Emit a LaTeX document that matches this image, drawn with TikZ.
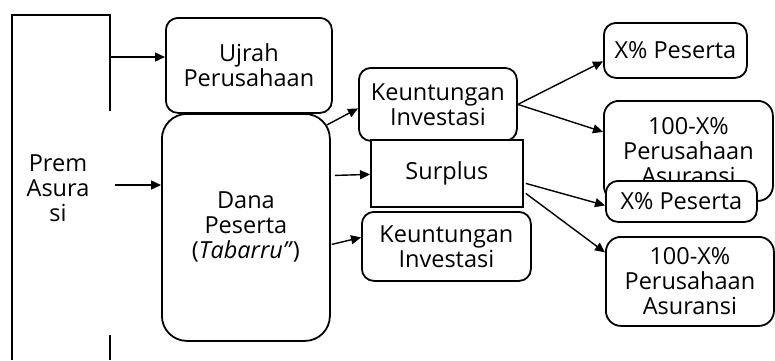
\documentclass[tikz,border=0pt]{standalone}
\usepackage{fontspec}
\setmainfont{Open Sans}
\usetikzlibrary{arrows.meta,calc}

\begin{document}
\begin{tikzpicture}[
    x=1pt, y=-1pt,
    >={Triangle[length=10pt,width=9pt]},
    line width=1.8pt,
    font=\fontsize{23.5}{25}\selectfont,
    box/.style={draw, rounded corners=12pt, fill=white, align=center, anchor=north west, inner sep=0pt},
    sqbox/.style={draw, fill=white, align=center, anchor=north west, inner sep=0pt},
    flow/.style={->, line width=1.4pt}
]
\useasboundingbox (0,0) rectangle (775,360);
% premi frame
\draw (110,111) -- (110,15) -- (12,15) -- (12,360);
\draw (110,335) -- (110,360);
\node[align=center] (premi) at (58,188) {Prem\\Asura\\si};
% middle column
\node[box, minimum width=166pt, minimum height=95pt] (ujrah) at (165,17) {Ujrah\\Perusahaan};
\node[box, rounded corners=25pt, minimum width=168pt, minimum height=227pt] (dana) at (161,113) {Dana\\Peserta\\(\textit{Tabarru''})};
\node[box, minimum width=158pt, minimum height=73pt] (keun) at (358,67) {Keuntungan\\Investasi};
\node[sqbox, minimum width=152pt, minimum height=67pt] (surplus) at (370,139) {Surplus};
\node[box, minimum width=169pt, minimum height=69pt] (keuntwo) at (361,211) {Keuntungan\\Investasi};
% right column
\node[box, minimum width=143pt, minimum height=55pt] (pesone) at (603,22) {X\% Peserta};
\node[box, rounded corners=15pt, minimum width=169pt, minimum height=100pt] (perone) at (603,100) {100-X\%\\Perusahaan\\Asuransi};
\node[box, minimum width=151pt, minimum height=41pt] (pestwo) at (605,180) {X\% Peserta};
\node[box, rounded corners=15pt, minimum width=168pt, minimum height=89pt] (pertwo) at (605,236) {100-X\%\\Perusahaan\\Asuransi};
% connectors
\coordinate (pa) at (111,57);
\coordinate (pb) at (115,185);
\draw[flow] (pa) -- (pa -| ujrah.west);
\draw[flow] (pb) -- (pb -| dana.west);
\draw[flow] ($(dana.north east)+(-4,12)$) -- ($(keun.west)+(0,4)$);
\draw[flow] ($(dana.east)+(4,-52)$) -- ($(surplus.west)+(0,1)$);
\draw[flow] ($(dana.east)+(1,17)$) -- ($(keuntwo.west)+(0,-9)$);
\draw[flow] (keun.east) -- ($(pesone.west)+(0,11)$);
\draw[flow] (keun.east) -- ($(perone.west)+(0,-19)$);
\draw[flow] ($(surplus.east)+(2,10)$) -- ($(pestwo.west)+(0,4)$);
\draw[flow] ($(surplus.east)+(2,20)$) -- ($(pertwo.west)+(0,-29)$);
\end{tikzpicture}
\end{document}
